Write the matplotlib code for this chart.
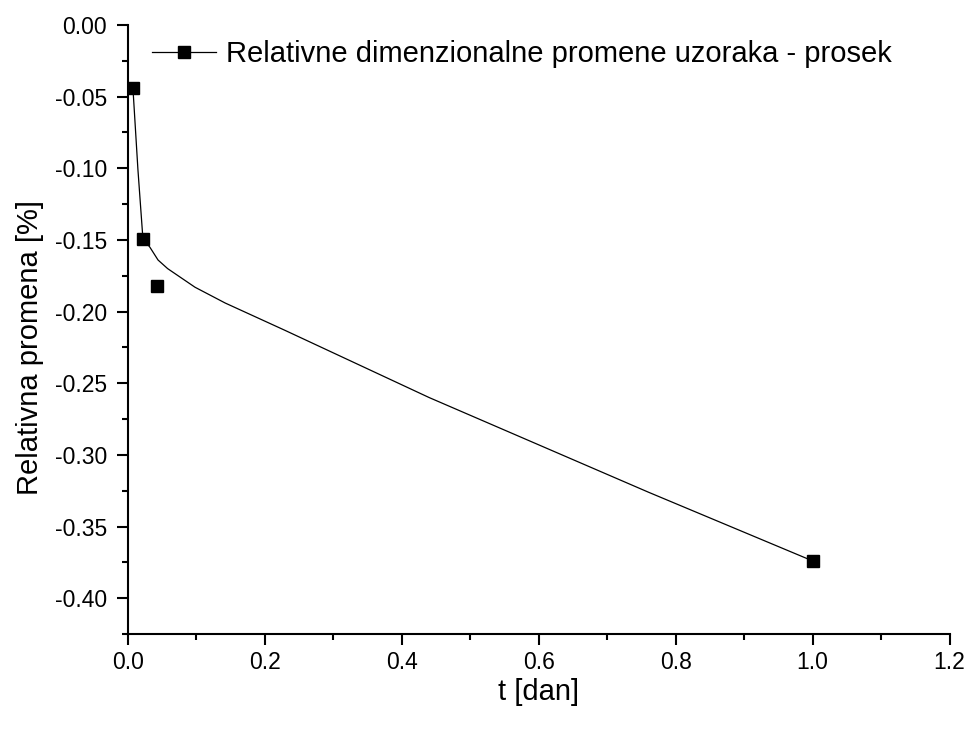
import numpy as np
import matplotlib.pyplot as plt
from matplotlib.ticker import MultipleLocator, FormatStrFormatter

# izmereni podaci (prosek uzoraka)
t_dan = [0.0073, 0.0219, 0.042, 1.0]
promena = [-0.0438, -0.149, -0.182, -0.374]

# glatka linija ocitana sa originalnog grafika
t_linija = [0.0073, 0.0146, 0.0219, 0.032, 0.044, 0.058, 0.098, 0.142, 0.229, 0.44, 0.76, 1.0]
y_linija = [-0.0438, -0.1007, -0.149, -0.155, -0.164, -0.170, -0.183, -0.194, -0.213, -0.260, -0.326, -0.374]

plt.rcParams['font.family'] = ['Liberation Sans', 'DejaVu Sans']
plt.rcParams['axes.unicode_minus'] = False

fig = plt.figure(figsize=(9.69, 7.29), dpi=100)
ax = fig.add_axes([0.132, 0.1303, 0.848, 0.8354])

ax.plot(t_linija, y_linija, color='black', lw=0.9, zorder=2)
ax.plot(t_dan, promena, ls='none', marker='s', ms=9, color='black', zorder=3)
# samo za legendu
ax.plot([], [], color='black', lw=0.9, marker='s', ms=9,
        label='Relativne dimenzionalne promene uzoraka - prosek')

ax.set_xlim(0, 1.2)
ax.set_ylim(-0.425, 0.0)
ax.xaxis.set_major_locator(MultipleLocator(0.2))
ax.xaxis.set_minor_locator(MultipleLocator(0.1))
ax.yaxis.set_major_locator(MultipleLocator(0.05))
ax.yaxis.set_minor_locator(MultipleLocator(0.025))
ax.xaxis.set_major_formatter(FormatStrFormatter('%.1f'))
ax.yaxis.set_major_formatter(FormatStrFormatter('%.2f'))

for s in ['top', 'right']:
    ax.spines[s].set_visible(False)
for s in ['left', 'bottom']:
    ax.spines[s].set_linewidth(1.5)

ax.tick_params(which='major', direction='out', length=8, width=1.5, labelsize=16.5)
ax.tick_params(which='minor', direction='out', length=4, width=1.5)
ax.tick_params(axis='x', which='major', pad=4)
ax.tick_params(axis='y', which='major', pad=7)

ax.set_xlabel('t [dan]', fontsize=21, labelpad=3)
ax.set_ylabel('Relativna promena [%]', fontsize=21)
ax.yaxis.set_label_coords(-0.1025, 0.47)

ax.legend(loc='upper left', bbox_to_anchor=(-0.003, 1.018), frameon=False,
          fontsize=21, handlelength=2.2, handletextpad=0.35)

fig.savefig('out.png', dpi=100)
